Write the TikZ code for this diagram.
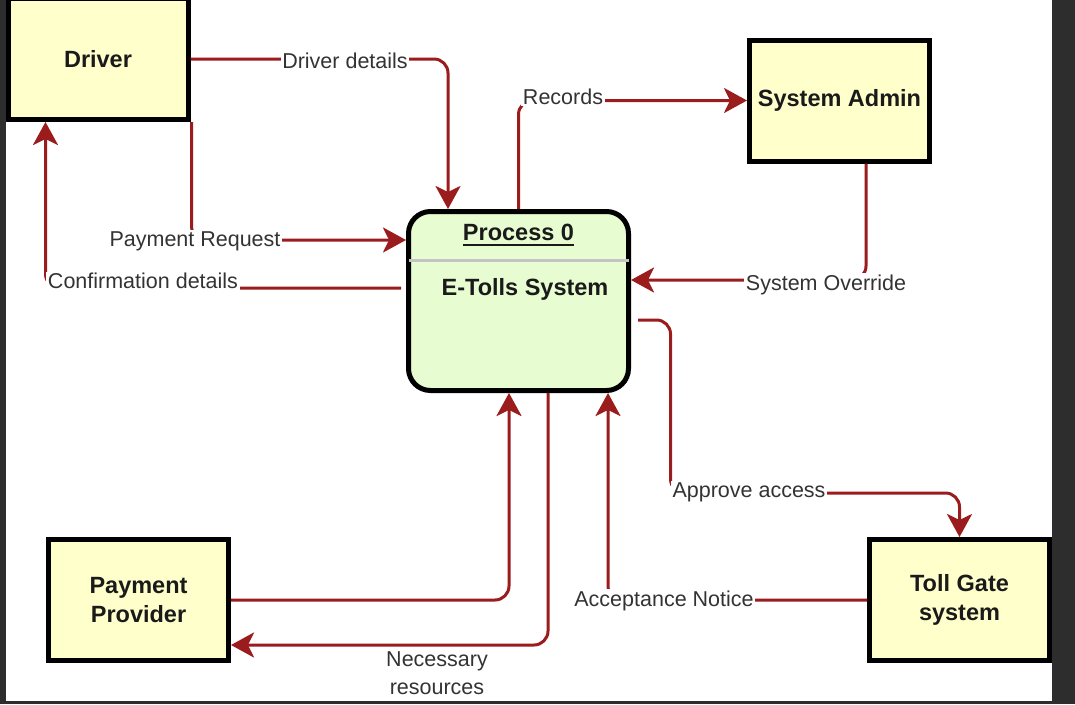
\documentclass[tikz,border=0pt]{standalone}
\usepackage{fontspec}
\setmainfont{Liberation Sans}
\usetikzlibrary{arrows.meta,calc}
\definecolor{flowred}{HTML}{9A1C1C}
\definecolor{boxyellow}{HTML}{FFFFCC}
\definecolor{procgreen}{HTML}{E8FCD2}
\definecolor{labeltext}{HTML}{333333}
\definecolor{nodetext}{HTML}{1A1A1A}
\definecolor{sepgray}{HTML}{C4C4C4}
\definecolor{frame}{HTML}{2D2D2D}
\tikzset{
  entity/.style={draw=black, line width=5pt, fill=boxyellow, minimum width=180pt, minimum height=121pt,
    inner sep=0pt, align=center, text=nodetext, font=\fontsize{23.5}{29.5}\selectfont\bfseries},
  procbox/.style={draw=black, line width=5pt, fill=procgreen, minimum width=220pt, minimum height=179pt,
    rounded corners=22pt, inner sep=0pt},
  proctext/.style={text=nodetext, font=\fontsize{23.5}{28}\selectfont\bfseries, inner sep=0pt},
  flow/.style={draw=flowred, line width=3pt, rounded corners=14pt,
    -{Stealth[length=23pt,width=25pt,inset=6pt]}},
  flowlabel/.style={fill=white, text=labeltext, inner sep=1.5pt, align=center,
    font=\fontsize{21.5}{28}\selectfont}
}
\begin{document}
\begin{tikzpicture}[x=1pt,y=-1pt]
\useasboundingbox (0,0) rectangle (1075,704);
\fill[white] (0,0) rectangle (1075,704);

% nodes
\node[entity] (driver) at (98,59) {Driver};
\node[entity] (sa) at (839.5,100.5) {System Admin};
\node[entity] (pp) at (138.5,600) {Payment\\Provider};
\node[entity] (tg) at (959.5,600) {Toll Gate\\system};
\node[procbox] (proc) at (518.5,301) {};
\draw[sepgray, line width=3pt] ($(proc.west)+(2.5,-41)$) -- ($(proc.east)+(-2.5,-41)$);
\node[proctext] (p0) at (518.5,232) {Process 0};
\draw[nodetext, line width=2pt] ($(p0.base west)+(0,4.5)$) -- ($(p0.base east)+(0,4.5)$);
\node[proctext] (etolls) at (525,289) {E-Tolls System};

% connectors
\draw[flow] (driver.east) -| ($(proc.north)+(-70.5,0)$);
\draw[flow] ($(driver.south east)+(1,0)$) |- ($(proc.west)+(0,-61)$);
\draw[flow] ($(proc.west)+(-5,-13)$) -| ($(driver.south west)+(40,0)$);
\draw[flow] (proc.north) |- (sa.west);
\draw[flow] ($(sa.south)+(26.5,0)$) |- ($(proc.east)+(0,-21)$);
\draw[flow] ($(proc.east)+(7,19)$) -| ($(proc.east)+(39.5,192)$) -| (tg.north);
\draw[flow] (tg.west) -| ($(proc.south)+(89.5,0)$);
\draw[flow] (pp.east) -| ($(proc.south)+(-9.5,0)$);
\draw[flow] ($(proc.south)+(29.5,0)$) |- ($(pp.east)+(0,45)$);

% labels
\node[flowlabel] (l1) at (345,61) {Driver details};
\node[flowlabel] (l2) at (195,241) {Payment Request};
\node[flowlabel] (l3) at (143,281) {Confirmation details};
\node[flowlabel] (l4) at (563,97) {Records};
\node[flowlabel] (l5) at (826,285) {System Override};
\node[flowlabel] (l6) at (749,492) {Approve access};
\node[flowlabel] (l7) at (664,601) {Acceptance Notice};
\node[flowlabel] (l8) at (437,673) {Necessary\\resources};

% dark frame strips
\fill[frame] (0,0) rectangle (6,704);
\fill[frame] (1052,0) rectangle (1075,704);
\fill[frame] (0,701) rectangle (1075,704);
\end{tikzpicture}
\end{document}
